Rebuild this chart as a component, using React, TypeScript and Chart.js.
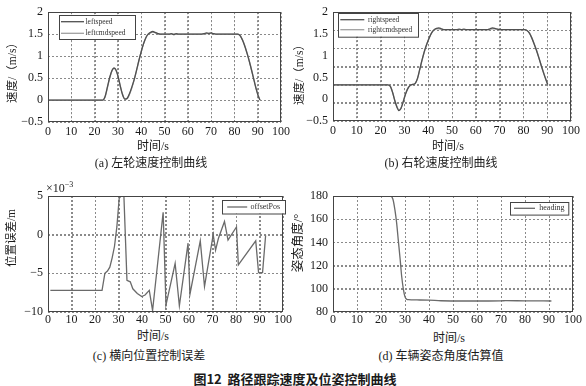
import React, { useEffect, useRef } from "react";
import { Chart, registerables } from "chart.js";

Chart.register(...registerables);

const SERIF = "'Liberation Serif', 'Noto Sans CJK SC', serif";
const SANS_CJK = "'Noto Sans CJK SC', 'Noto Sans', sans-serif";

// ---------- data ----------
const xTickStep = 10;

// (a) left wheel speed
const leftTime = [0, 23.5, 24.5, 25.5, 26.5, 27.5, 28.3, 29, 30, 31, 32, 33, 34, 35, 36, 37, 38, 39, 40, 41, 42, 43, 44, 45, 46, 47, 48, 50, 52, 53, 54, 55, 56, 58, 60, 63, 66, 67, 68, 69, 70, 71, 72, 74, 78, 81.5, 82.5, 83.5, 84.5, 85.5, 86.5, 87.5, 88.5, 89.5, 90.3, 91];
const leftSpeed = [0, 0, 0.08, 0.3, 0.52, 0.68, 0.73, 0.7, 0.55, 0.32, 0.12, 0.02, 0.04, 0.15, 0.3, 0.47, 0.68, 0.9, 1.1, 1.28, 1.42, 1.5, 1.54, 1.56, 1.54, 1.52, 1.5, 1.5, 1.5, 1.51, 1.49, 1.51, 1.5, 1.5, 1.5, 1.5, 1.5, 1.51, 1.53, 1.52, 1.53, 1.51, 1.5, 1.5, 1.5, 1.5, 1.46, 1.36, 1.22, 1.05, 0.86, 0.65, 0.43, 0.22, 0.08, 0];
const leftCmdSpeed = [0, 0, 0.07, 0.28, 0.5, 0.67, 0.72, 0.7, 0.56, 0.33, 0.13, 0.02, 0.03, 0.13, 0.28, 0.46, 0.67, 0.89, 1.1, 1.28, 1.42, 1.5, 1.53, 1.55, 1.53, 1.51, 1.5, 1.5, 1.5, 1.5, 1.5, 1.5, 1.5, 1.5, 1.5, 1.5, 1.5, 1.5, 1.51, 1.52, 1.52, 1.51, 1.5, 1.5, 1.5, 1.5, 1.47, 1.37, 1.23, 1.06, 0.87, 0.66, 0.44, 0.23, 0.09, 0];

// (b) right wheel speed
const rightTime = [0, 23, 24, 25, 26, 27, 27.7, 28.5, 29.5, 30.5, 31.5, 32.5, 33.5, 34.5, 35.5, 36.5, 37.5, 38.5, 39.5, 40.5, 41.5, 42.5, 43.5, 44.5, 45.5, 46.5, 48, 52, 53, 54, 55, 56, 60, 65, 66, 67, 68, 69, 70, 75, 80.5, 81.5, 82.5, 83.5, 84.5, 85.5, 86.5, 87.5, 88.5, 89.5, 90.2];
const rightSpeed = [0.33, 0.33, 0.3, 0.16, -0.04, -0.2, -0.26, -0.22, -0.06, 0.12, 0.25, 0.32, 0.34, 0.36, 0.48, 0.7, 0.92, 1.12, 1.28, 1.42, 1.53, 1.6, 1.63, 1.64, 1.62, 1.6, 1.6, 1.6, 1.61, 1.6, 1.61, 1.6, 1.6, 1.6, 1.62, 1.64, 1.63, 1.61, 1.6, 1.6, 1.6, 1.58, 1.52, 1.41, 1.27, 1.12, 0.95, 0.77, 0.6, 0.44, 0.34];
const rightCmdSpeed = [0.33, 0.33, 0.31, 0.17, -0.03, -0.19, -0.25, -0.21, -0.05, 0.13, 0.26, 0.32, 0.34, 0.36, 0.47, 0.69, 0.91, 1.11, 1.28, 1.42, 1.53, 1.59, 1.62, 1.62, 1.61, 1.6, 1.6, 1.6, 1.6, 1.6, 1.6, 1.6, 1.6, 1.6, 1.61, 1.62, 1.62, 1.61, 1.6, 1.6, 1.6, 1.58, 1.53, 1.42, 1.28, 1.13, 0.96, 0.78, 0.61, 0.45, 0.34];

// (c) lateral position error (×10^-3 m)
const offsetTime = [1, 23, 24.2, 25.3, 26.3, 27.3, 28.3, 29.3, 30.3, 31, 32.3, 33.6, 35, 36.1, 38, 39.9, 41.3, 43.1, 44.5, 49.0, 50.2, 54.1, 55.9, 59.6, 60.4, 64.8, 66.6, 70.3, 71.3, 72.5, 75.1, 76.6, 80.2, 81.0, 88.4, 89.6, 91.3, 92.6];
const offsetPos = [-7.2, -7.2, -5.0, -4.7, -4.2, -3.0, -1.5, 1.0, 4.7, 5.0, 5.0, -5.9, -6.1, -7.0, -7.6, -8.0, -7.8, -7.2, -9.8, 2.9, -9.1, -3.7, -9.2, -1.1, -7.7, -0.8, -6.7, 0.0, -2.0, -0.5, 1.7, -0.7, 1.0, -3.9, -0.8, -4.9, -4.9, -0.1];

// (d) heading estimate (deg)
const headingTime = [0, 24, 25, 25.8, 26.5, 27.2, 28, 28.6, 29.3, 30, 30.7, 31.5, 35, 40, 45, 55, 65, 70, 72, 80, 91];
const heading = [180, 180, 177, 168, 157, 142, 125, 111, 100, 93, 91, 90.6, 90.4, 90.2, 89.7, 89.5, 89.5, 89.6, 89.8, 89.6, 89.5];

// ---------- helpers ----------
const pts = (xs: number[], ys: number[]) => xs.map((x, i) => ({ x, y: ys[i] }));
const fmt = (v: number | string) => String(v).replace("-", "\u2212");

const GRID_COLOR = "#8a8a8a";

// dotted grid drawn from the scales' own generated ticks
const gridPlugin = {
  id: "mgrid",
  beforeDatasetsDraw(chart: any) {
    const { ctx, chartArea } = chart;
    const xs = chart.scales.x;
    const ys = chart.scales.yg || chart.scales.y;
    const xl = Math.round(chartArea.left), xr = Math.round(chartArea.right);
    const yt = Math.round(chartArea.top), yb = Math.round(chartArea.bottom);
    ctx.save();
    ctx.strokeStyle = GRID_COLOR;
    ctx.lineWidth = 1;
    ctx.setLineDash([2, 2]);
    ctx.beginPath();
    (xs.ticks || []).forEach((t: any) => {
      const p = Math.round(xs.getPixelForValue(t.value));
      if (!(p > xl + 1 && p < xr - 2)) return;
      ctx.moveTo(p + 0.5, yt);
      ctx.lineTo(p + 0.5, yb);
    });
    (ys.ticks || []).forEach((t: any) => {
      const p = Math.round(ys.getPixelForValue(t.value));
      if (!(p > yt + 1 && p < yb - 2)) return;
      ctx.moveTo(xl, p + 0.5);
      ctx.lineTo(xr, p + 0.5);
    });
    ctx.stroke();
    ctx.restore();
  },
};

const framePlugin = {
  id: "frame",
  afterDraw(chart: any) {
    const { ctx, chartArea } = chart;
    const xl = Math.round(chartArea.left), xr = Math.round(chartArea.right);
    const yt = Math.round(chartArea.top), yb = Math.round(chartArea.bottom);
    ctx.save();
    ctx.strokeStyle = "#444";
    ctx.lineWidth = 1;
    ctx.setLineDash([]);
    ctx.strokeRect(xl + 0.5, yt + 0.5, xr - xl - 1, yb - yt - 1);
    ctx.restore();
  },
};

type LegendSpec = { x: number; y: number; w: number; h: number; rows: number[]; l0: number; l1: number; tx: number; fs: number };

function makeLegend(spec: LegendSpec) {
  return {
    id: "boxLegend",
    afterDraw(chart: any) {
      const { ctx, chartArea } = chart;
      const bx = Math.round(chartArea.left + spec.x);
      const by = Math.round(chartArea.top + spec.y);
      ctx.save();
      ctx.setLineDash([]);
      ctx.fillStyle = "#ffffff";
      ctx.fillRect(bx, by, spec.w, spec.h);
      ctx.strokeStyle = "#444";
      ctx.lineWidth = 1;
      ctx.strokeRect(bx + 0.5, by + 0.5, spec.w, spec.h);
      ctx.font = `${spec.fs}px ${SERIF}`;
      ctx.textBaseline = "middle";
      ctx.textAlign = "left";
      chart.data.datasets.forEach((ds: any, i: number) => {
        const ry = by + spec.rows[i];
        ctx.strokeStyle = ds.borderColor;
        ctx.lineWidth = ds.borderWidth;
        ctx.beginPath();
        ctx.moveTo(bx + spec.l0, ry);
        ctx.lineTo(bx + spec.l1, ry);
        ctx.stroke();
        ctx.fillStyle = "#333";
        ctx.fillText(ds.label, bx + spec.tx, ry);
      });
      ctx.restore();
    },
  };
}

const GRID = { display: true, drawOnChartArea: true, color: GRID_COLOR, lineWidth: 1, drawTicks: false };
const NOGRID = { display: false, drawTicks: false };
const DASHED = { display: false, dash: [2, 2] };
const TICK_FONT = { family: SERIF, size: 12 };

function xScale(height: number, pad: number) {
  return {
    type: "linear",
    min: 0,
    max: 100,
    ticks: { stepSize: xTickStep, padding: pad, color: "#1a1a1a", font: TICK_FONT, maxRotation: 0, autoSkip: false, callback: fmt },
    grid: GRID,
    border: DASHED,
    afterFit: (s: any) => { s.height = height; },
  };
}

function yScale(width: number, min: number, max: number, step: number, showGrid = true) {
  return {
    type: "linear",
    position: "left",
    min,
    max,
    ticks: { stepSize: step, padding: 5, color: "#1a1a1a", font: TICK_FONT, autoSkip: false, callback: fmt },
    grid: showGrid ? GRID : NOGRID,
    border: DASHED,
    afterFit: (s: any) => { s.width = width; },
  };
}

function lineDs(label: string, xs: number[], ys: number[], color: string, smooth: boolean) {
  return {
    label,
    data: pts(xs, ys),
    borderColor: color,
    backgroundColor: color,
    borderWidth: 1.3,
    pointRadius: 0,
    fill: false,
    tension: 0,
    cubicInterpolationMode: smooth ? "monotone" : "default",
  };
}

function baseOptions(padding: any, scales: any) {
  return {
    responsive: false,
    animation: false,
    devicePixelRatio: 1,
    layout: { padding },
    plugins: { legend: { display: false }, tooltip: { enabled: false }, title: { display: false } },
    scales,
  };
}

function buildA(): any {
  return {
    type: "line",
    data: {
      datasets: [
        lineDs("leftspeed", leftTime, leftSpeed, "#505050", true),
        lineDs("leftcmdspeed", leftTime, leftCmdSpeed, "#a0a0a0", true),
      ],
    },
    options: baseOptions({ top: 6, right: 8, left: 0, bottom: 0 }, { x: xScale(18, 3), y: yScale(48, -0.5, 2, 0.5) }),
    plugins: [gridPlugin, framePlugin, makeLegend({ x: 11, y: 3, w: 76, h: 24, rows: [6.7, 18.3], l0: 2, l1: 25, tx: 26.5, fs: 7.5 })],
  };
}

function buildB(): any {
  return {
    type: "line",
    data: {
      datasets: [
        lineDs("rightspeed", rightTime, rightSpeed, "#505050", true),
        lineDs("rightcmdspeed", rightTime, rightCmdSpeed, "#a0a0a0", true),
      ],
    },
    options: baseOptions({ top: 7, right: 15, left: 0, bottom: 0 }, {
      x: xScale(19, 3),
      y: yScale(40, -0.5, 2, 0.5, false),
      yg: {
        type: "linear",
        position: "left",
        min: 0,
        max: 6,
        ticks: { display: false, stepSize: 1 },
        grid: GRID,
        border: DASHED,
        afterFit: (s: any) => { s.width = 0; },
      },
    }),
    plugins: [gridPlugin, framePlugin, makeLegend({ x: 4.7, y: 1, w: 80, h: 23.7, rows: [6.7, 16.7], l0: 2.3, l1: 26.3, tx: 30, fs: 7.5 })],
  };
}

function buildC(): any {
  return {
    type: "line",
    data: { datasets: [lineDs("offsetPos", offsetTime, offsetPos, "#6a6a6a", false)] },
    options: baseOptions({ top: 16, right: 7, left: 0, bottom: 0 }, { x: xScale(13, 1), y: yScale(48, -10, 5, 5) }),
    plugins: [gridPlugin, framePlugin, makeLegend({ x: 173.5, y: 4, w: 63, h: 13.5, rows: [7], l0: 5.2, l1: 25.2, tx: 28.5, fs: 8 })],
  };
}

function buildD(): any {
  return {
    type: "line",
    data: { datasets: [lineDs("heading", headingTime, heading, "#6a6a6a", true)] },
    options: baseOptions({ top: 16, right: 13, left: 0, bottom: 0 }, { x: xScale(13, 1), y: yScale(40, 80, 180, 20) }),
    plugins: [gridPlugin, framePlugin, makeLegend({ x: 177, y: 5.7, w: 58.3, h: 12.6, rows: [6.3], l0: 4, l1: 25, tx: 29.3, fs: 8 })],
  };
}

function Panel({ left, top, width, height, build }: { left: number; top: number; width: number; height: number; build: () => any }) {
  const ref = useRef<HTMLCanvasElement>(null);
  useEffect(() => {
    const chart = new Chart(ref.current as HTMLCanvasElement, build());
    return () => chart.destroy();
  }, []);
  return (
    <canvas
      ref={ref}
      width={width}
      height={height}
      style={{ position: "absolute", left, top, width, height, display: "block" }}
    />
  );
}

function T({ x, y, children, size = 12, rot = false, bold = false, family = SERIF }: any) {
  return (
    <div
      style={{
        position: "absolute",
        left: x,
        top: y,
        transform: `translate(-50%, -50%)${rot ? " rotate(-90deg)" : ""}`,
        fontSize: size,
        fontFamily: family,
        fontWeight: bold ? 700 : 400,
        whiteSpace: "pre",
        color: "#1a1a1a",
        lineHeight: 1,
      }}
    >
      {children}
    </div>
  );
}

export default function App() {
  return (
    <div style={{ position: "absolute", left: 0, top: 0, width: 586, height: 386, background: "#fff", overflow: "hidden" }}>
      <Panel left={0} top={0} width={293} height={140} build={buildA} />
      <Panel left={293} top={0} width={293} height={140} build={buildB} />
      <Panel left={0} top={180} width={293} height={145} build={buildC} />
      <Panel left={293} top={180} width={293} height={145} build={buildD} />

      <T x={13} y={70} rot size={11.5}>速度/（m/s）</T>
      <T x={300} y={72} rot size={11.5}>速度/（m/s）</T>
      <T x={12} y={238} rot size={11.5}>位置误差/m</T>
      <T x={298} y={243} rot size={12.5}>姿态角度/°</T>

      <T x={153} y={146}>时间/s</T>
      <T x={448} y={146}>时间/s</T>
      <T x={153} y={336}>时间/s</T>
      <T x={449} y={338}>时间/s</T>

      <T x={151} y={163}>(a) 左轮速度控制曲线</T>
      <T x={441} y={163}>(b) 右轮速度控制曲线</T>
      <T x={149} y={356}>(c) 横向位置控制误差</T>
      <T x={441} y={356}>(d) 车辆姿态角度估算值</T>

      <div style={{ position: "absolute", left: 46, top: 182, fontFamily: SERIF, fontSize: 12, color: "#1a1a1a", lineHeight: 1, whiteSpace: "nowrap" }}>
        ×10<span style={{ fontSize: 8, position: "relative", top: -5 }}>−3</span>
      </div>

      <T x={295} y={378} size={13} bold family={SANS_CJK}>{"图12  路径跟踪速度及位姿控制曲线"}</T>
    </div>
  );
}
